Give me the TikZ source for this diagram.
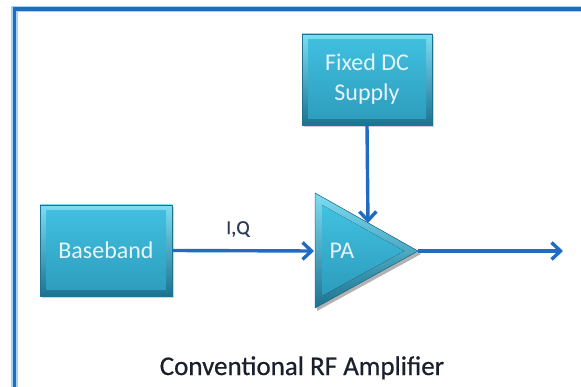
\documentclass[tikz,border=0pt]{standalone}
\usepackage{fontspec}
\setmainfont{Carlito}
\newfontfamily\heavyfont[FakeBold=0.6]{Carlito}
\usetikzlibrary{arrows.meta,shadows}
\definecolor{lineblue}{HTML}{1F6CC4}
\definecolor{halo}{HTML}{A9D3F2}
\definecolor{bevtop}{HTML}{7EDDF2}
\definecolor{bevbot}{HTML}{1C7390}
\definecolor{facetop}{HTML}{42C1E1}
\definecolor{facebot}{HTML}{2C9BBB}
\definecolor{boxtext}{HTML}{E6F4F8}
\definecolor{captext}{HTML}{1A1F2C}
\definecolor{iqtext}{HTML}{2C3A55}
\begin{document}
\begin{tikzpicture}[x=1pt,y=-1pt,
  box/.style={rectangle, draw=bevbot, line width=0.5pt, top color=bevtop, bottom color=bevbot,
    minimum width=#1, minimum height=91pt, inner sep=0pt, align=center,
    text=boxtext, font=\fontsize{24}{30}\selectfont,
    drop shadow={shadow xshift=2pt, shadow yshift=-2.5pt, opacity=.35},
    path picture={\fill[top color=facetop, bottom color=facebot]
      ([shift={(6,6)}]path picture bounding box.north west) rectangle
      ([shift={(-6,-6)}]path picture bounding box.south east);}},
  conn/.style={draw=lineblue, line width=3.4pt, -{Straight Barb[length=9pt,width=17pt,line width=3.4pt]}},
  lbl/.style={font=\heavyfont\fontsize{20}{24}\selectfont, text=iqtext},
  caption/.style={font=\heavyfont\fontsize{27}{32}\selectfont, text=captext}]
\useasboundingbox (0,0) rectangle (581,387);
\begin{scope}
  \clip (0,0) rectangle (581,387);
  \draw[line width=6.5pt, halo] (14.5,9) rectangle (620,390);
  \draw[line width=3.4pt, lineblue] (14.5,9) rectangle (620,390);
\end{scope}

% boxes
\node[box=132pt] (bb) at (106,250.5) {Baseband};
\node[box=130pt] (dc) at (367,79.5) {Fixed DC\\Supply};

% PA triangle
\fill[black, opacity=.3] (317,196) -- (421,254) -- (317,311) -- cycle;
\fill[top color=bevtop, bottom color=bevbot, draw=bevbot, line width=0.5pt]
  (315,193) -- (418,251) -- (315,308) -- cycle;
\fill[top color=facetop, bottom color=facebot]
  (322,205) -- (404,251) -- (322,296) -- cycle;
\node[text=boxtext, font=\fontsize{24}{30}\selectfont] (pa) at (342,251) {PA};
\coordinate (paL) at (314,251);
\coordinate (paT) at (368,223);
\coordinate (paR) at (418,251);
\coordinate (out) at (563,251);

% connectors
\draw[conn] (bb.east) -- (paL);
\draw[conn] (dc.south) -- (paT);
\draw[conn] (paR) -- (out);

% labels
\node[lbl] (iq) at (238,229) {I,Q};
\node[caption, anchor=base] (cap) at (302,375) {Conventional RF Amplifier};
\end{tikzpicture}
\end{document}
